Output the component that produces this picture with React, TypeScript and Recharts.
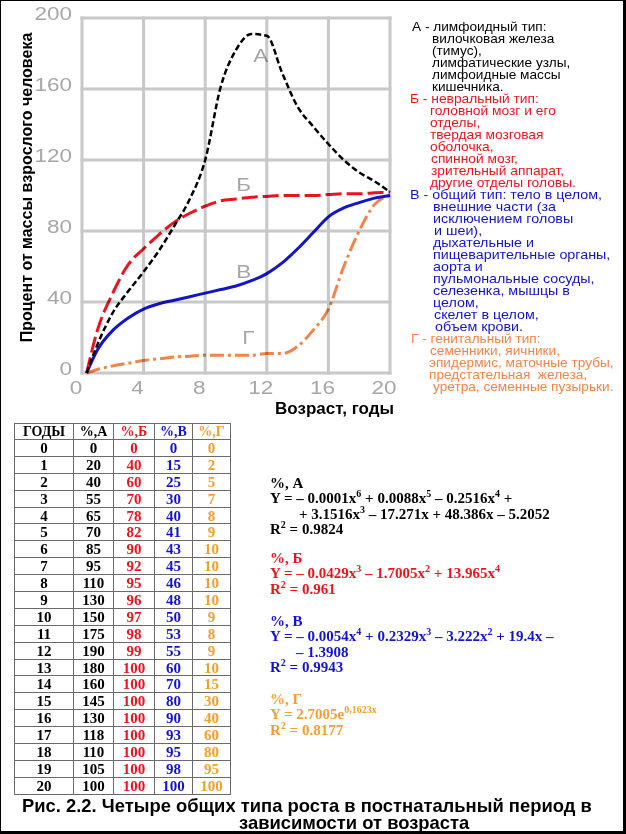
import React from 'react';
import { LineChart, Line, XAxis, YAxis, ReferenceDot } from 'recharts';

// curves as drawn on the graph
const ages = [0.3, 1, 2, 3, 4, 5, 6, 7, 8, 9, 10, 11, 12, 13, 14, 15, 16, 17, 18, 19, 20];
const curveA = [0, 16, 34, 46, 57, 69, 83, 98, 120, 161, 182, 191, 190, 169, 150, 139, 129, 120, 113, 108, 102];
const curveB = [0, 24, 45, 61, 70, 78, 85, 90, 94, 97, 98, 99, 99.5, 100, 100, 100, 100.5, 101, 101, 101.5, 102];
const curveV = [0, 13, 24, 31, 36, 39, 41, 43, 45, 47, 49, 52, 56, 62, 70, 79, 88, 93, 96, 98.5, 100];
const curveG = [0, 2, 4, 5.5, 7, 8, 9, 9.5, 10, 10, 10, 10, 11, 11, 15, 24, 36, 60, 80, 95, 100];

const xTicks = [0, 4, 8, 12, 16, 20];
const yTicks = [0, 40, 80, 120, 160, 200];

// curve letters: name, age, percent
const letterNames = ['А', 'Б', 'В', 'Г'];
const letterAges = [11.6, 10.5, 10.5, 10.8];
const letterValues = [179, 106, 57, 20];

// table values
const tableYears = [0, 1, 2, 3, 4, 5, 6, 7, 8, 9, 10, 11, 12, 13, 14, 15, 16, 17, 18, 19, 20];
const tableA = [0, 20, 40, 55, 65, 70, 85, 95, 110, 130, 150, 175, 190, 180, 160, 145, 130, 118, 110, 105, 100];
const tableB = [0, 40, 60, 70, 78, 82, 90, 92, 95, 96, 97, 98, 99, 100, 100, 100, 100, 100, 100, 100, 100];
const tableV = [0, 15, 25, 30, 40, 41, 43, 45, 46, 48, 50, 53, 55, 60, 70, 80, 90, 93, 95, 98, 100];
const tableG = [0, 2, 5, 7, 8, 9, 10, 10, 10, 10, 9, 8, 9, 10, 15, 30, 40, 60, 80, 95, 100];
const tableHeaders = ['ГОДЫ', '%,А', '%,Б', '%,В', '%,Г'];

const legendA = [
  ['А - лимфоидный тип:', 0],
  ['вилочковая железа', 20],
  ['(тимус),', 20],
  ['лимфатические узлы,', 20],
  ['лимфоидные массы', 20],
  ['кишечника.', 20],
];
const legendB = [
  ['Б - невральный тип:', -2],
  ['головной мозг и его', 18],
  ['отделы,', 18],
  ['твердая мозговая', 18],
  ['оболочка,', 18],
  ['спинной мозг,', 19],
  ['зрительный аппарат,', 19],
  ['другие отделы головы.', 18],
];
const legendV = [
  ['В - общий тип: тело в целом,', -2],
  ['внешние части (за', 21],
  ['исключением головы', 21],
  ['и шеи),', 22],
  ['дыхательные и', 21],
  ['пищеварительные органы,', 21],
  ['аорта и', 21],
  ['пульмональные сосуды,', 21],
  ['селезенка, мышцы в', 21],
  ['целом,', 21],
  ['скелет в целом,', 22],
  ['объем крови.', 23],
];
const legendG = [
  ['Г - генитальный тип:', -1],
  ['семенники, яичники,', 18],
  ['эпидермис, маточные трубы,', 17],
  ['предстательная  железа,', 17],
  ['уретра, семенные пузырьки.', 21],
];

const BLACK = '#000000';
const RED = '#e8141e';
const BLUE = '#1414c8';
const SALMON = '#f0844a';
const GOLD = '#f0a030';
const GRAY = '#a6a6a6';
const GRID = '#c8c8c8';

const CHART_W = 400;
const CHART_H = 420;
const MARGIN = { top: 18, right: 10, left: 0, bottom: 0 };
const Y_AXIS_W = 82;
const X_AXIS_H = 47;
const PLOT_X = MARGIN.left + Y_AXIS_W;
const PLOT_Y = MARGIN.top;
const PLOT_W = CHART_W - MARGIN.left - MARGIN.right - Y_AXIS_W;
const PLOT_H = CHART_H - MARGIN.top - MARGIN.bottom - X_AXIS_H;
const X_MAX = 20;
const Y_MAX = 200;
const GRID_W = 3;

const chartData = ages.map((x, i) => ({
  x,
  a: curveA[i],
  b: curveB[i],
  v: curveV[i],
  g: curveG[i],
}));

const wideText = {
  fontFamily: 'Liberation Sans, Arial, sans-serif',
  fontSize: 18,
  fill: GRAY,
};

const YTick = (props: any) => {
  const { x, y, payload } = props;
  return (
    <g transform={`translate(${x},${y - 4}) scale(1.25,1)`}>
      <text x={0} y={0} dy="0.36em" textAnchor="end" style={wideText}>
        {payload.value}
      </text>
    </g>
  );
};

const XTick = (props: any) => {
  const { x, y, payload } = props;
  return (
    <g transform={`translate(${x - 6},${y}) scale(1.25,1)`}>
      <text x={0} y={0} dy="0.36em" textAnchor="middle" style={wideText}>
        {payload.value}
      </text>
    </g>
  );
};

const Letter = (name: string) => (props: any) => {
  const { cx, cy } = props;
  return (
    <g transform={`translate(${cx},${cy}) scale(1.25,1)`}>
      <text x={0} y={0} dy="0.36em" textAnchor="middle" style={wideText}>
        {name}
      </text>
    </g>
  );
};

// thick gray grid, multiplied onto the chart so the curves stay visible
const GridLayer = () => (
  <svg width={CHART_W} height={CHART_H} style={{ display: 'block' }}>
    {yTicks.map((t) => {
      const y = PLOT_Y + PLOT_H * (1 - t / Y_MAX);
      return (
        <rect
          key={`h${t}`}
          x={PLOT_X - GRID_W / 2}
          y={y - GRID_W / 2}
          width={PLOT_W + GRID_W}
          height={GRID_W}
          fill={GRID}
        />
      );
    })}
    {xTicks.map((t) => {
      const x = PLOT_X + (PLOT_W * t) / X_MAX;
      return (
        <rect
          key={`v${t}`}
          x={x - GRID_W / 2}
          y={PLOT_Y - GRID_W / 2}
          width={GRID_W}
          height={PLOT_H + GRID_W}
          fill={GRID}
        />
      );
    })}
  </svg>
);

const Legend = () => {
  // each group is drawn a little wider than the plain font, like the scan
  const groups: [any[], string, number][] = [
    [legendA, BLACK, 1.05],
    [legendB, RED, 1.06],
    [legendV, BLUE, 1.1],
    [legendG, SALMON, 1.05],
  ];
  return (
    <div
      style={{
        position: 'absolute',
        left: 409,
        top: 20,
        fontFamily: 'Liberation Sans, Arial, sans-serif',
        fontSize: 13,
        lineHeight: '12px',
        whiteSpace: 'pre',
      }}
    >
      {groups.map(([lines, color, sx], gi) =>
        lines.map(([text, indent], li) => (
          <div key={`${gi}-${li}`} style={{ color, paddingLeft: indent + 2, height: 12 }}>
            <span
              style={{
                display: 'inline-block',
                transform: `scaleX(${sx})`,
                transformOrigin: '0 50%',
              }}
            >
              {text}
            </span>
          </div>
        ))
      )}
    </div>
  );
};

const DataTable = () => {
  const cell: React.CSSProperties = {
    border: '1px solid #6a6a6a',
    padding: 0,
    textAlign: 'center',
    lineHeight: '14px',
  };
  const colors = [BLACK, BLACK, RED, BLUE, GOLD];
  const widths = [58, 39, 40, 37, 37];
  return (
    <table
      style={{
        position: 'absolute',
        left: 13,
        top: 422,
        borderCollapse: 'collapse',
        fontFamily: 'Liberation Serif, Times New Roman, serif',
        fontWeight: 'bold',
        fontSize: 15,
        tableLayout: 'fixed',
        width: 211,
      }}
    >
      <thead>
        <tr style={{ height: 16 }}>
          {tableHeaders.map((h, i) => (
            <th key={h} style={{ ...cell, width: widths[i], color: colors[i], fontSize: 14 }}>
              {h}
            </th>
          ))}
        </tr>
      </thead>
      <tbody>
        {tableYears.map((yr, i) => (
          <tr key={yr} style={{ height: 16.9 }}>
            <td style={{ ...cell, color: colors[0] }}>{yr}</td>
            <td style={{ ...cell, color: colors[1] }}>{tableA[i]}</td>
            <td style={{ ...cell, color: colors[2] }}>{tableB[i]}</td>
            <td style={{ ...cell, color: colors[3] }}>{tableV[i]}</td>
            <td style={{ ...cell, color: colors[4] }}>{tableG[i]}</td>
          </tr>
        ))}
      </tbody>
    </table>
  );
};

const Sup = ({ children }: { children: React.ReactNode }) => (
  <sup style={{ fontSize: 10, lineHeight: 0, verticalAlign: 6 }}>{children}</sup>
);

const Equations = () => {
  const block = (top: number, color: string): React.CSSProperties => ({
    position: 'absolute',
    left: 269,
    top,
    color,
    fontFamily: 'Liberation Serif, Times New Roman, serif',
    fontWeight: 'bold',
    fontSize: 15,
    lineHeight: '15.4px',
    whiteSpace: 'pre',
  });
  return (
    <>
      <div style={block(475, BLACK)}>
        <div>%, А</div>
        <div>
          Y = – 0.0001x<Sup>6</Sup> + 0.0088x<Sup>5</Sup> – 0.2516x<Sup>4</Sup> +
        </div>
        <div style={{ paddingLeft: 29 }}>
          + 3.1516x<Sup>3</Sup> – 17.271x + 48.386x – 5.2052
        </div>
        <div>
          R<Sup>2</Sup> = 0.9824
        </div>
      </div>
      <div style={block(550, RED)}>
        <div>%, Б</div>
        <div>
          Y = – 0.0429x<Sup>3</Sup> – 1.7005x<Sup>2</Sup> + 13.965x<Sup>4</Sup>
        </div>
        <div>
          R<Sup>2</Sup> = 0.961
        </div>
      </div>
      <div style={block(613, BLUE)}>
        <div>%, В</div>
        <div>
          Y = – 0.0054x<Sup>4</Sup> + 0.2329x<Sup>3</Sup> – 3.222x<Sup>2</Sup> + 19.4x –
        </div>
        <div style={{ paddingLeft: 26 }}>– 1.3908</div>
        <div>
          R<Sup>2</Sup> = 0.9943
        </div>
      </div>
      <div style={block(691, GOLD)}>
        <div>%, Г</div>
        <div>
          Y = 2.7005e<Sup>0,1623x</Sup>
        </div>
        <div>
          R<Sup>2</Sup> = 0.8177
        </div>
      </div>
    </>
  );
};

const xAxisTitle = (p: any) => {
  const vb = p.viewBox || { x: 82, y: 373, width: 308 };
  return (
    <text
      x={vb.x + vb.width + 4}
      y={vb.y + 41}
      textAnchor="end"
      style={{
        fontFamily: 'Liberation Sans, Arial, sans-serif',
        fontWeight: 'bold',
        fontSize: 17,
        fill: '#000',
      }}
    >
      Возраст, годы
    </text>
  );
};

const yAxisTitle = (p: any) => {
  const vb = p.viewBox || { x: 0, y: 18, height: 355 };
  const cx = vb.x + 26;
  const cy = vb.y + vb.height / 2 - 8;
  return (
    <text
      x={cx}
      y={cy}
      dy="0.36em"
      textAnchor="middle"
      transform={`rotate(-90, ${cx}, ${cy})`}
      style={{
        fontFamily: 'Liberation Sans, Arial, sans-serif',
        fontWeight: 'bold',
        fontSize: 16,
        fill: '#000',
      }}
    >
      Процент от массы взрослого человека
    </text>
  );
};

const App = () => {
  return (
    <div
      style={{
        position: 'absolute',
        left: 0,
        top: 0,
        width: 626,
        height: 834,
        boxSizing: 'border-box',
        borderLeft: '1px solid #000',
        borderTop: '1px solid #000',
        borderRight: '3px solid #000',
        borderBottom: '3px solid #000',
        background: '#fff',
        overflow: 'hidden',
      }}
    >
      <div style={{ position: 'absolute', left: -1, top: -1, width: CHART_W, height: CHART_H }}>
        <div style={{ position: 'absolute', left: 0, top: 0 }}>
          <LineChart width={CHART_W} height={CHART_H} data={chartData} margin={MARGIN}>
            <XAxis
              dataKey="x"
              type="number"
              domain={[0, X_MAX]}
              ticks={xTicks}
              interval={0}
              height={X_AXIS_H}
              axisLine={false}
              tickLine={false}
              tickSize={0}
              tickMargin={15}
              tick={<XTick />}
              label={{ content: xAxisTitle }}
            />
            <YAxis
              type="number"
              domain={[0, Y_MAX]}
              ticks={yTicks}
              interval={0}
              width={Y_AXIS_W}
              axisLine={false}
              tickLine={false}
              tickSize={0}
              tickMargin={10}
              tick={<YTick />}
              label={{ content: yAxisTitle }}
            />
            <Line
              type="monotone"
              dataKey="g"
              stroke={SALMON}
              strokeWidth={3}
              strokeDasharray="14 4 3 4"
              dot={false}
              isAnimationActive={false}
            />
            <Line
              type="monotone"
              dataKey="v"
              stroke={BLUE}
              strokeWidth={3}
              dot={false}
              isAnimationActive={false}
            />
            <Line
              type="monotone"
              dataKey="b"
              stroke={RED}
              strokeWidth={3}
              strokeDasharray="16 5"
              dot={false}
              isAnimationActive={false}
            />
            <Line
              type="monotone"
              dataKey="a"
              stroke={BLACK}
              strokeWidth={2.5}
              strokeDasharray="6 3"
              dot={false}
              isAnimationActive={false}
            />
            {letterNames.map((name, i) => (
              <ReferenceDot
                key={name}
                x={letterAges[i]}
                y={letterValues[i]}
                r={1}
                ifOverflow="visible"
                shape={Letter(name)}
              />
            ))}
          </LineChart>
        </div>
        <div
          style={{
            position: 'absolute',
            left: 0,
            top: 0,
            mixBlendMode: 'multiply',
            pointerEvents: 'none',
          }}
        >
          <GridLayer />
        </div>
      </div>
      <Legend />
      <DataTable />
      <Equations />
      <div
        style={{
          position: 'absolute',
          left: 21,
          top: 796,
          fontFamily: 'Liberation Sans, Arial, sans-serif',
          fontWeight: 'bold',
          fontSize: 18.4,
          lineHeight: '17px',
          color: '#000',
          whiteSpace: 'pre',
        }}
      >
        <div>Рис. 2.2. Четыре общих типа роста в постнатальный период в</div>
        <div style={{ paddingLeft: 217 }}>зависимости от возраста</div>
      </div>
    </div>
  );
};

export default App;
